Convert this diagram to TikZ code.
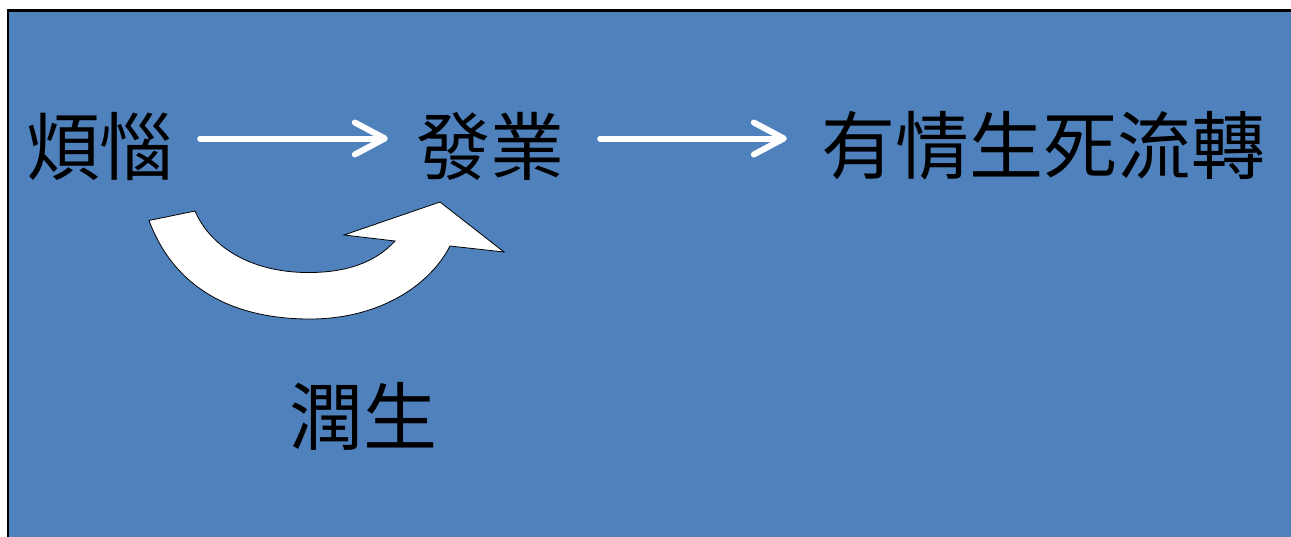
\documentclass[tikz,border=0pt]{standalone}
\usepackage{fontspec}
\newfontfamily\cjk{Noto Sans CJK TC}
\usepackage{tikz}
\usetikzlibrary{arrows.meta}
\usetikzlibrary{positioning}
\definecolor{slide}{HTML}{4F81BD}

\begin{document}
\begin{tikzpicture}[x=1pt, y=-1pt, font=\cjk\fontsize{74}{74}\selectfont,
  >={Straight Barb[round,length=30pt,width=32pt]},
  word/.style={inner sep=0pt, text=black},
  flow/.style={->, white, line width=6pt, line cap=round}]

\useasboundingbox (0,0) rectangle (1291,536);
\fill [white] (-30,-30) rectangle (1400,650);
\draw [fill=slide, line width=2.2pt] (8,10.5) rectangle (1400,650);

\node [word] (klesha)  at (100,146)  {煩惱};
\node [word] (karma)   at (490,146)  {發業};
\node [word] (samsara) at (1043,146) {有情生死流轉};
\node [word] (moisten) at (363,416)  {潤生};

\draw [flow, shorten <=26pt, shorten >=28pt]
  ([yshift=7.5pt]klesha.east) -- ([yshift=7.5pt]karma.west);
\draw [flow, shorten <=36pt, shorten >=34pt]
  ([yshift=7.5pt]karma.east) -- ([yshift=7.5pt]samsara.west);

% curved arrow over the label
\draw [fill=white, line width=0.8pt, line join=miter]
  (149,220.5) .. controls (175,290) and (235,319) .. (310,319)
  .. controls (380,319) and (430,285) .. (450,246)
  -- (504,252) -- (440,202) -- (344,235) -- (395,241)
  .. controls (375,263) and (345,273) .. (306,272.5)
  .. controls (255,272) and (212,250) .. (195,211) -- cycle;

\end{tikzpicture}
\end{document}
